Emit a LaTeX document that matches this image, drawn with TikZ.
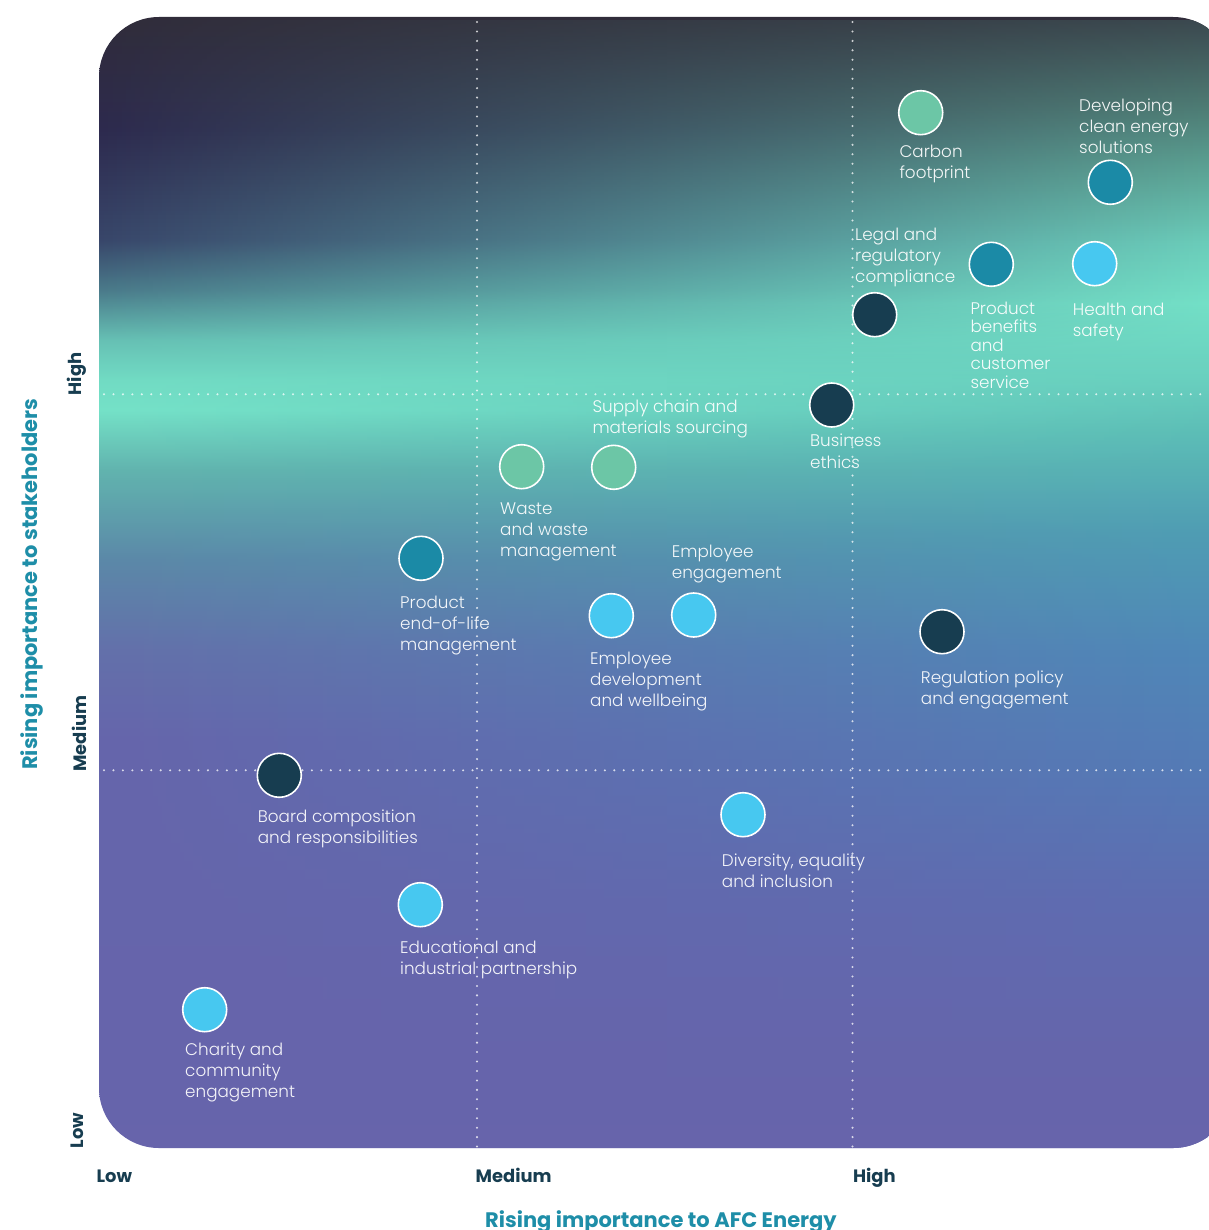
\documentclass[tikz,border=0pt]{standalone}
\usepackage{fontspec}
\setmainfont{Poppins}
\IfFontExistsTF{Poppins Light}{\newfontfamily\lblfont{Poppins Light}}{\newfontfamily\lblfont{Poppins}}
\usetikzlibrary{fadings}

\definecolor{navyc}{HTML}{173D50}
\definecolor{tealc}{HTML}{1B8AA6}
\definecolor{skyc}{HTML}{47C8F0}
\definecolor{mintc}{HTML}{6CC6A6}
\definecolor{axisc}{HTML}{173D50}
\definecolor{titlec}{HTML}{1E8EA8}

% left-side vertical profile (bottom -> top)
\definecolor{La}{HTML}{6764AB}
\definecolor{Lb}{HTML}{6665AB}
\definecolor{Lc}{HTML}{6470AA}
\definecolor{Ld}{HTML}{5C88A8}
\definecolor{Le}{HTML}{62B4AE}
\definecolor{Lf}{HTML}{75E2C8}
\definecolor{Lg}{HTML}{72DCC4}
\definecolor{Lh}{HTML}{66C0B4}
\definecolor{Li}{HTML}{4A7A8A}
\definecolor{Lj}{HTML}{38466A}
\definecolor{Lk}{HTML}{2D2A4E}
\definecolor{Ll}{HTML}{302C3A}
\pgfdeclareverticalshading{bgL}{100bp}{color(0bp)=(La); color(25bp)=(La); color(43.04bp)=(Lb); color(47.02bp)=(Lc); color(51bp)=(Ld); color(54.97bp)=(Le); color(57.63bp)=(Lf); color(58.95bp)=(Lg); color(60.72bp)=(Lh); color(62.93bp)=(Li); color(65.14bp)=(Lj); color(70.0bp)=(Lk); color(75bp)=(Ll); color(100bp)=(Ll)}

% right-side vertical profile (bottom -> top)
\definecolor{Ra}{HTML}{6764AB}
\definecolor{Rb}{HTML}{6566AC}
\definecolor{Rc}{HTML}{5E6DB1}
\definecolor{Rd}{HTML}{557AB6}
\definecolor{Re}{HTML}{4F88B8}
\definecolor{Rf}{HTML}{4F9DB4}
\definecolor{Rg}{HTML}{5CBDB6}
\definecolor{Rh}{HTML}{68CEBE}
\definecolor{Ri}{HTML}{74E2C8}
\definecolor{Rj}{HTML}{6CD0BC}
\definecolor{Rk}{HTML}{5EA898}
\definecolor{Rl}{HTML}{4E7C74}
\definecolor{Rm}{HTML}{3C4A50}
\pgfdeclareverticalshading{bgR}{100bp}{color(0bp)=(Ra); color(25bp)=(Ra); color(29.33bp)=(Rb); color(35.96bp)=(Rc); color(41.27bp)=(Rd); color(47.02bp)=(Re); color(52.3bp)=(Rf); color(56.75bp)=(Rg); color(58.95bp)=(Rh); color(62.5bp)=(Ri); color(65.14bp)=(Rj); color(68.23bp)=(Rk); color(71.33bp)=(Rl); color(75bp)=(Rm); color(100bp)=(Rm)}

\tikzfading[name=fadeR, left color=transparent!100, right color=transparent!0]

\newcommand\lbltext[2][21pt]{\vtop{\baselineskip=#1\lineskiplimit=-10pt\halign{##\hfil\cr#2\crcr}}}

\tikzset{
  bubble/.style={circle, minimum size=44pt, inner sep=0pt, draw=white, line width=1.6pt},
  lbl/.style={anchor=base west, inner sep=0pt, text=white, text opacity=0.93, font=\lblfont\fontsize{16.8}{21}\selectfont},
  axlbl/.style={anchor=base west, inner sep=0pt, text=axisc, font=\bfseries\fontsize{17.9}{20}\selectfont},
  axtitle/.style={anchor=base west, inner sep=0pt, text=titlec, font=\bfseries\fontsize{21}{24}\selectfont},
  griddots/.style={draw=white, draw opacity=0.75, line width=2.3pt, line cap=round, dash pattern=on 0pt off 9.45pt}
}

\begin{document}
\begin{tikzpicture}[x=1pt,y=-1pt]
\useasboundingbox (0,0) rectangle (1208,1230);

% background panel
\begin{scope}
  \clip[rounded corners=60pt] (99,17) rectangle (1233,1148);
  \path[shading=bgL] (99,17) rectangle (1233,1148);
  \path[shading=bgR, path fading=fadeR] (99,17) rectangle (1233,1148);
\end{scope}

% dotted grid
\coordinate (v1t) at (477,22);   \coordinate (v1b) at (477,1148);
\coordinate (v2t) at (852.5,22); \coordinate (v2b) at (852.5,1148);
\coordinate (h1l) at (104,394.3); \coordinate (h1r) at (1208,394.3);
\coordinate (h2l) at (104,770.3); \coordinate (h2r) at (1208,770.3);
\draw[griddots] (v1t) -- (v1b);
\draw[griddots] (v2t) -- (v2b);
\draw[griddots] (h1l) -- (h1r);
\draw[griddots] (h2l) -- (h2r);

% bubbles
\node[bubble, fill=mintc] (carbon) at (920.7,112.7) {};
\node[bubble, fill=tealc] (clean) at (1110.3,182.3) {};
\node[bubble, fill=tealc] (prodben) at (991.3,264.3) {};
\node[bubble, fill=skyc] (health) at (1094.7,263.7) {};
\node[bubble, fill=navyc] (legal) at (874.7,314.7) {};
\node[bubble, fill=navyc] (ethics) at (831.7,405) {};
\node[bubble, fill=mintc] (waste) at (521.7,466.7) {};
\node[bubble, fill=mintc] (supply) at (613.7,467.3) {};
\node[bubble, fill=tealc] (eol) at (421,558.3) {};
\node[bubble, fill=skyc] (empdev) at (611.3,615.7) {};
\node[bubble, fill=skyc] (empeng) at (693.7,615) {};
\node[bubble, fill=navyc] (regpol) at (942,631.7) {};
\node[bubble, fill=navyc] (board) at (279.3,775.3) {};
\node[bubble, fill=skyc] (divers) at (743,814.7) {};
\node[bubble, fill=skyc] (educ) at (420.3,904.7) {};
\node[bubble, fill=skyc] (charity) at (204.7,1009.7) {};

% labels
\node[lbl] (carbonL) at (899.3,158) {\lbltext{Carbon\cr footprint}};
\node[lbl] (cleanL) at (1079,111.7) {\lbltext{Developing\cr clean energy\cr solutions}};
\node[lbl] (legalL) at (855,241) {\lbltext{Legal and\cr regulatory\cr compliance}};
\node[lbl] (prodbenL) at (970.3,314) {\lbltext[18.6pt]{Product\cr benefits\cr and\cr customer\cr service}};
\node[lbl] (healthL) at (1072.7,315) {\lbltext{Health and\cr safety}};
\node[lbl] (supplyL) at (592.3,412.3) {\lbltext{Supply chain and\cr materials sourcing}};
\node[lbl] (ethicsL) at (810,446.5) {\lbltext[21.5pt]{Business\cr ethics}};
\node[lbl] (wasteL) at (500,514) {\lbltext{Waste\cr and waste\cr management}};
\node[lbl] (empengL) at (671.7,557.3) {\lbltext{Employee\cr engagement}};
\node[lbl] (eolL) at (400,608.3) {\lbltext{Product\cr end-of-life\cr management}};
\node[lbl] (empdevL) at (590,664.3) {\lbltext{Employee\cr development\cr and wellbeing}};
\node[lbl] (regpolL) at (920.7,683.3) {\lbltext{Regulation policy\cr and engagement}};
\node[lbl] (boardL) at (257.7,822.3) {\lbltext{Board composition\cr and responsibilities}};
\node[lbl] (diversL) at (721.7,866.7) {\lbltext{Diversity, equality\cr and inclusion}};
\node[lbl] (educL) at (400,953.3) {\lbltext{Educational and\cr industrial partnership}};
\node[lbl] (charityL) at (185,1055.3) {\lbltext{Charity and\cr community\cr engagement}};

% axes
\node[axlbl] (xlow) at (96.5,1182.7) {Low};
\node[axlbl] (xmed) at (475.5,1182.7) {Medium};
\node[axlbl] (xhigh) at (852.8,1182.7) {High};
\node[axtitle] (xtitle) at (485,1227) {Rising importance to AFC Energy};

\node[axlbl, rotate=90] (ylow) at (83,1148.3) {Low};
\node[axlbl, rotate=90] (ymed) at (86.5,771.7) {Medium};
\node[axlbl, rotate=90] (yhigh) at (81.5,395.5) {High};
\node[axtitle, rotate=90] (ytitle) at (37,770) {Rising importance to stakeholders};
\end{tikzpicture}
\end{document}
